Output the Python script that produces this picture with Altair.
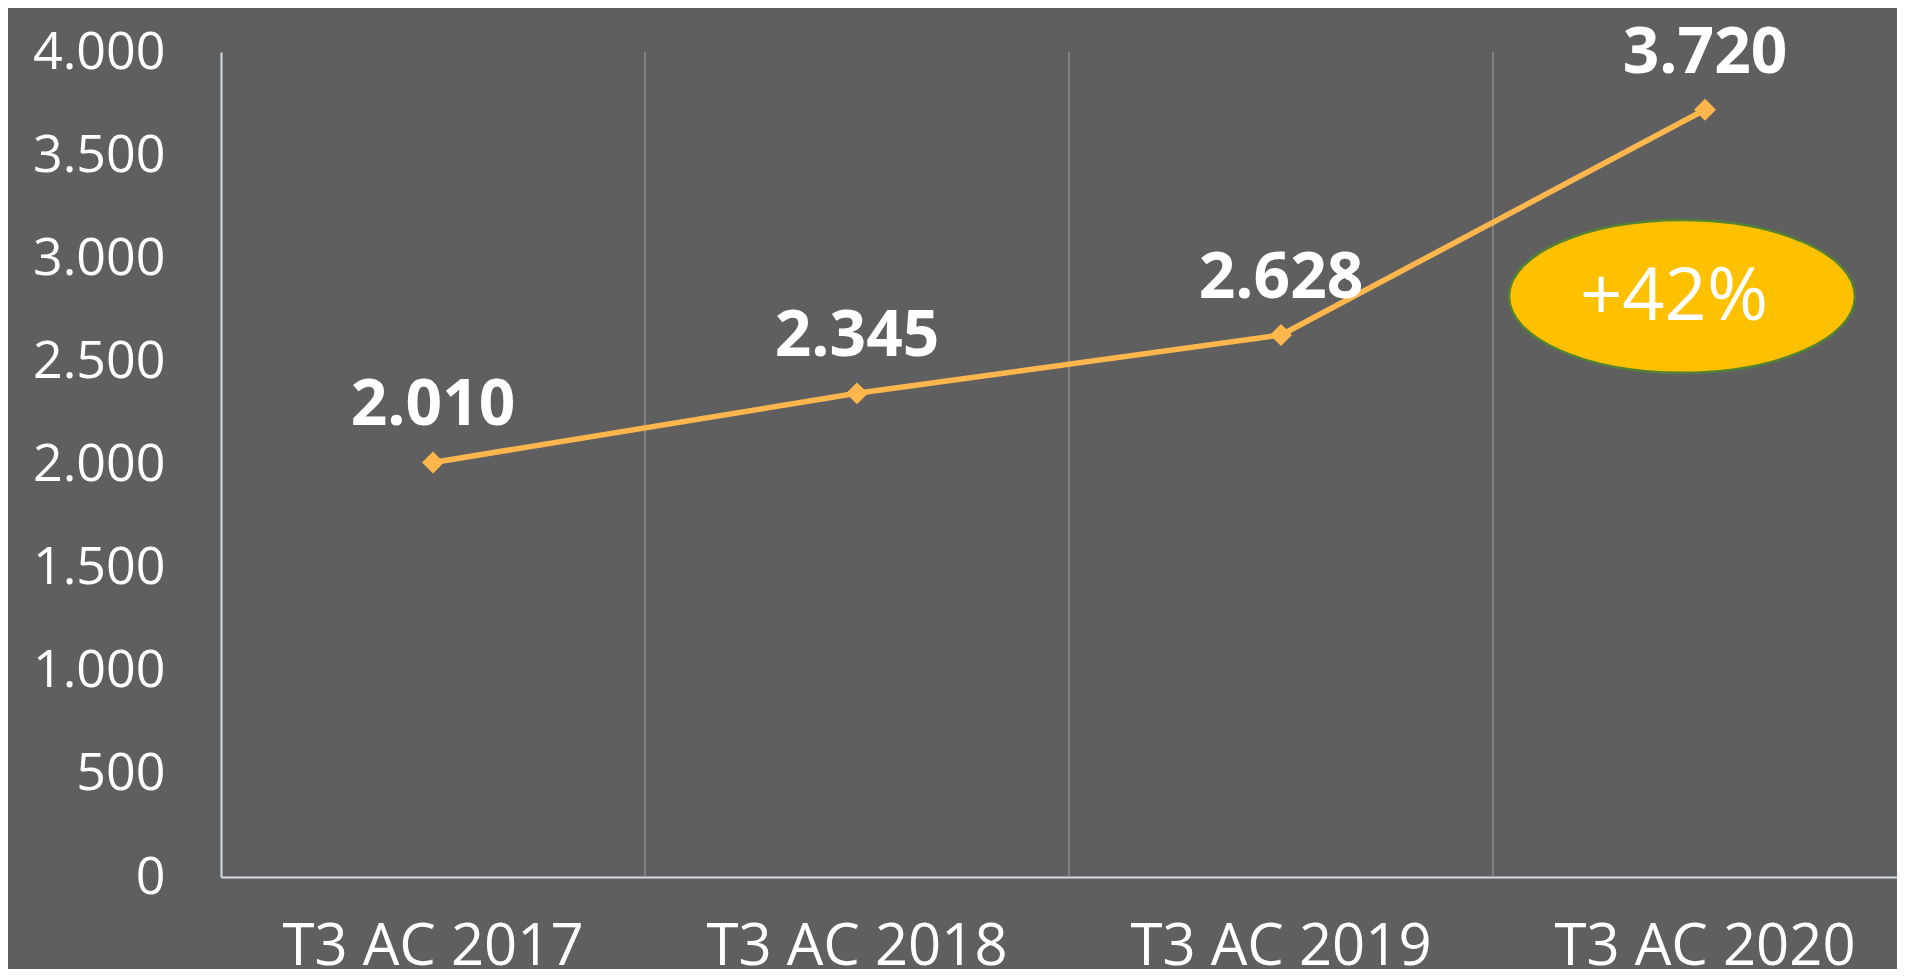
import altair as alt
import pandas as pd

# ---- data ----
categories = ["T3 AC 2017", "T3 AC 2018", "T3 AC 2019", "T3 AC 2020"]
values = [2010, 2345, 2628, 3720]
value_labels = ["2.010", "2.345", "2.628", "3.720"]
y_ticks = [0, 500, 1000, 1500, 2000, 2500, 3000, 3500, 4000]
badge_text = ["+42%"]
badge_category = ["T3 AC 2020"]
badge_level = [2815]

df = pd.DataFrame({"cat": categories, "val": values, "label": value_labels})
grid_df = pd.DataFrame({"cat": categories[1:]})
badge_df = pd.DataFrame({"cat": badge_category, "val": badge_level, "text": badge_text})

FONT = "Open Sans"
BG = "#5F5F5F"
LINE = "#FFB74D"
AXIS = "#D6DCE4"

# bands run past the visible right edge, as in the reference
x_scale = alt.Scale(domain=categories, range=[0, 1696], paddingInner=0, paddingOuter=0)
y_scale = alt.Scale(domain=[0, 4000], nice=False)

x_axis = alt.Axis(
    title=None, ticks=False, grid=False, labelAngle=0, labelLimit=0,
    labelFont=FONT, labelFontSize=58, labelColor="white", labelPadding=41,
    domainColor=AXIS, domainWidth=2,
)
y_axis = alt.Axis(
    title=None, ticks=False, grid=False, values=y_ticks,
    labelFont=FONT, labelFontSize=52, labelColor="white", labelPadding=56,
    labelExpr="replace(format(datum.value, ','), ',', '.')",
    domainColor=AXIS, domainWidth=2,
)

x_enc = alt.X("cat:N", scale=x_scale, axis=x_axis, sort=categories)
y_enc = alt.Y("val:Q", scale=y_scale, axis=y_axis)

grid = alt.Chart(grid_df).mark_rule(color="#8C8C8C", strokeWidth=1.5).encode(
    x=alt.X("cat:N", scale=x_scale, axis=x_axis, sort=categories, bandPosition=0),
    y=alt.datum(0),
    y2=alt.datum(4000),
)

line = alt.Chart(df).mark_line(color=LINE, strokeWidth=5.5).encode(x=x_enc, y=y_enc)

points = alt.Chart(df).mark_point(
    shape="diamond", filled=True, size=480, color=LINE, opacity=1
).encode(x=x_enc, y=y_enc)

labels = alt.Chart(df).mark_text(
    font=FONT, fontSize=64, fontWeight="bold", color="white", dy=-56, baseline="middle"
).encode(x=x_enc, y=y_enc, text="label:N")

ellipse_path = (
    "M1,0 C1,0.2441 0.5523,0.442 0,0.442 C-0.5523,0.442 -1,0.2441 -1,0 "
    "C-1,-0.2441 -0.5523,-0.442 0,-0.442 C0.5523,-0.442 1,-0.2441 1,0 Z"
)
badge = alt.Chart(badge_df).mark_point(
    shape=ellipse_path, filled=True, size=346 * 346, fill="#FFC000",
    stroke="#548235", strokeWidth=2.5, opacity=1, fillOpacity=1, strokeOpacity=1, xOffset=-23,
).encode(x=x_enc, y=y_enc)

badge_label = alt.Chart(badge_df).mark_text(
    font=FONT, fontSize=74, color="white", baseline="middle", dx=-31, dy=2
).encode(x=x_enc, y=y_enc, text="text:N")

chart = (
    alt.layer(grid, line, points, labels, badge, badge_label)
    .properties(
        width=1676, height=825,
        autosize=alt.AutoSizeParams(type="none"),
        padding={"left": 213, "top": 44, "right": 0, "bottom": 92},
        background=BG,
    )
    .configure_view(stroke=None)
)

chart.save("out.html", embed_options={"renderer": "svg", "actions": False})
